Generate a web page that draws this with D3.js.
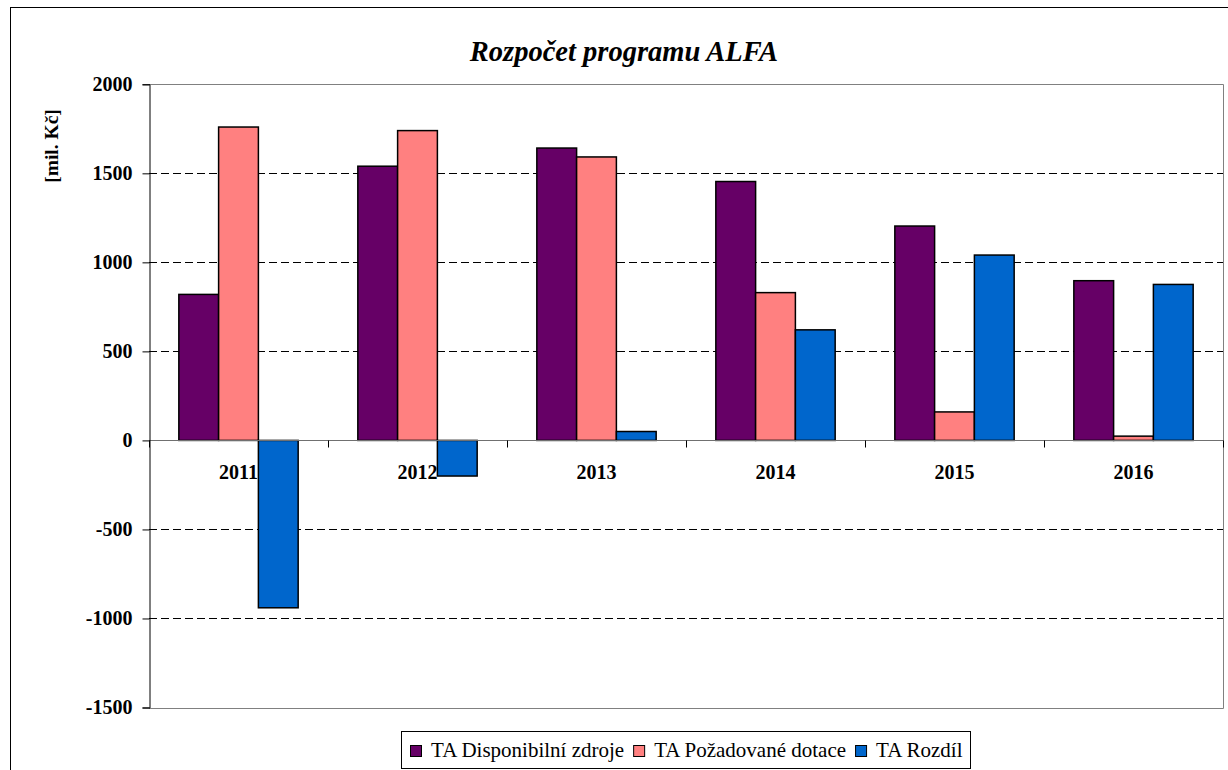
<!DOCTYPE html>
<html>
<head>
<meta charset="utf-8">
<script src="https://cdn.jsdelivr.net/npm/d3@7/dist/d3.min.js"></script>
<style>
  html, body { margin: 0; padding: 0; background: #fff; }
  svg { display: block; }
  text { font-family: "Liberation Serif", "Times New Roman", serif; }
</style>
</head>
<body>
<div id="chart"></div>
<script>
// data
const years = ["2011", "2012", "2013", "2014", "2015", "2016"];
const seriesNames = ["TA Disponibilní zdroje", "TA Požadované dotace", "TA Rozdíl"];
const disponibilni = [820, 1540, 1642, 1454, 1204, 897];
const pozadovane = [1760, 1740, 1592, 830, 160, 24];
const rozdil = [-940, -200, 50, 621, 1041, 876];
const yTicks = [-1500, -1000, -500, 0, 500, 1000, 1500, 2000];
const seriesColors = ["#660066", "#FF8080", "#0066CC"];

const W = 1228, H = 770;
const plot = { left: 149, right: 1223, top: 84.3, bottom: 707.5 };
const serif = '"Liberation Serif", "Times New Roman", serif';

const svg = d3.select("#chart").append("svg")
    .attr("width", W)
    .attr("height", H);

// outer chart border
svg.append("rect")
    .attr("x", 10.5).attr("y", 7.5)
    .attr("width", 1300).attr("height", 900)
    .attr("fill", "#fff")
    .attr("stroke", "#000")
    .attr("stroke-width", 1);

const y = d3.scaleLinear().domain([-1500, 2000]).range([plot.bottom, plot.top]);
const x = d3.scaleBand().domain(years).range([plot.left, plot.right]).padding(0);
const bw = x.bandwidth();
const barW = bw / 4.5;
const xSub = d3.scaleBand().domain(seriesNames)
    .range([0.75 * barW, bw - 0.75 * barW]).padding(0);

const rows = years.map((yr, i) => ({
    year: yr,
    values: [disponibilni[i], pozadovane[i], rozdil[i]]
}));

const px = v => Math.round(v) + 0.5;

// dashed gridlines
svg.append("g")
    .selectAll("line")
    .data(yTicks.filter(t => t !== 0 && t !== -1500 && t !== 2000))
    .join("line")
    .attr("x1", plot.left).attr("x2", plot.right)
    .attr("y1", d => px(y(d)))
    .attr("y2", d => px(y(d)))
    .attr("stroke", "#000")
    .attr("stroke-dasharray", "8,4");

// plot area border (top, right, bottom)
svg.append("path")
    .attr("d", `M${plot.left},${px(plot.top)}H${px(plot.right)}V${px(plot.bottom)}H${plot.left}`)
    .attr("fill", "none")
    .attr("stroke", "#808080")
    .attr("stroke-width", 1);

// category labels (drawn under the bars)
svg.append("g")
    .selectAll("text")
    .data(years)
    .join("text")
    .attr("x", d => x(d) + bw / 2)
    .attr("y", 479)
    .attr("text-anchor", "middle")
    .style("font-family", serif)
    .attr("font-size", 20)
    .attr("font-weight", "bold")
    .text(d => d);

// bars
const groups = svg.append("g")
    .selectAll("g")
    .data(rows)
    .join("g")
    .attr("transform", d => `translate(${x(d.year)},0)`);

groups.selectAll("rect")
    .data(d => d.values.map((v, i) => ({ v, i })))
    .join("rect")
    .attr("x", d => xSub(seriesNames[d.i]))
    .attr("width", xSub.bandwidth())
    .attr("y", d => y(Math.max(0, d.v)))
    .attr("height", d => Math.abs(y(d.v) - y(0)))
    .attr("fill", d => seriesColors[d.i])
    .attr("stroke", "#000")
    .attr("stroke-width", 1.5);

// zero axis line with category ticks
svg.append("line")
    .attr("x1", plot.left).attr("x2", plot.right)
    .attr("y1", px(y(0))).attr("y2", px(y(0)))
    .attr("stroke", "#707070");

svg.append("g")
    .selectAll("line")
    .data(d3.range(years.length + 1))
    .join("line")
    .attr("x1", i => px(plot.left + i * bw))
    .attr("x2", i => px(plot.left + i * bw))
    .attr("y1", px(y(0)))
    .attr("y2", px(y(0)) + 7)
    .attr("stroke", "#000");

// y axis (plain hyphen for negatives, like the original)
const yAxis = d3.axisLeft(y)
    .tickValues(yTicks)
    .tickSize(7)
    .tickPadding(10)
    .tickFormat(d => String(d));

const yG = svg.append("g")
    .attr("transform", `translate(${px(plot.left)},0)`)
    .call(yAxis);
yG.select(".domain").attr("stroke", "#000");
yG.selectAll(".tick line").attr("stroke", "#000");
yG.selectAll(".tick text")
    .style("font-family", serif)
    .attr("font-size", 20)
    .attr("font-weight", "bold")
    .attr("fill", "#000");

// y axis title
svg.append("text")
    .attr("transform", "translate(58,146) rotate(-90)")
    .attr("text-anchor", "middle")
    .style("font-family", serif)
    .attr("font-size", 19.5)
    .attr("font-weight", "bold")
    .text("[mil. Kč]");

// chart title
svg.append("text")
    .attr("x", 624)
    .attr("y", 61)
    .attr("text-anchor", "middle")
    .style("font-family", serif)
    .attr("font-size", 28.5)
    .attr("font-weight", "bold")
    .attr("font-style", "italic")
    .text("Rozpočet programu ALFA");

// legend
const legend = svg.append("g");
const legendBox = legend.append("rect")
    .attr("fill", "#fff")
    .attr("stroke", "#000")
    .attr("stroke-width", 1);

let cursor = 0;
const items = legend.selectAll("g.item")
    .data(seriesNames)
    .join("g")
    .attr("class", "item");

items.each(function (name, i) {
    const g = d3.select(this);
    g.append("rect")
        .attr("x", cursor + 0.5).attr("y", 745.5)
        .attr("width", 11).attr("height", 11)
        .attr("fill", seriesColors[i])
        .attr("stroke", "#000")
        .attr("stroke-width", 1);
    const t = g.append("text")
        .attr("x", cursor + 21)
        .attr("y", 757)
        .style("font-family", serif)
        .attr("font-size", 21)
        .text(name);
    cursor += 21 + t.node().getComputedTextLength() + 9;
});

const legendW = cursor - 9;
const legendLeft = (plot.left + plot.right) / 2 - legendW / 2;
items.attr("transform", `translate(${Math.round(legendLeft)},0)`);
legendBox
    .attr("x", Math.round(legendLeft) - 8.5)
    .attr("y", 731.5)
    .attr("width", Math.round(legendW) + 17)
    .attr("height", 37);
</script>
</body>
</html>
